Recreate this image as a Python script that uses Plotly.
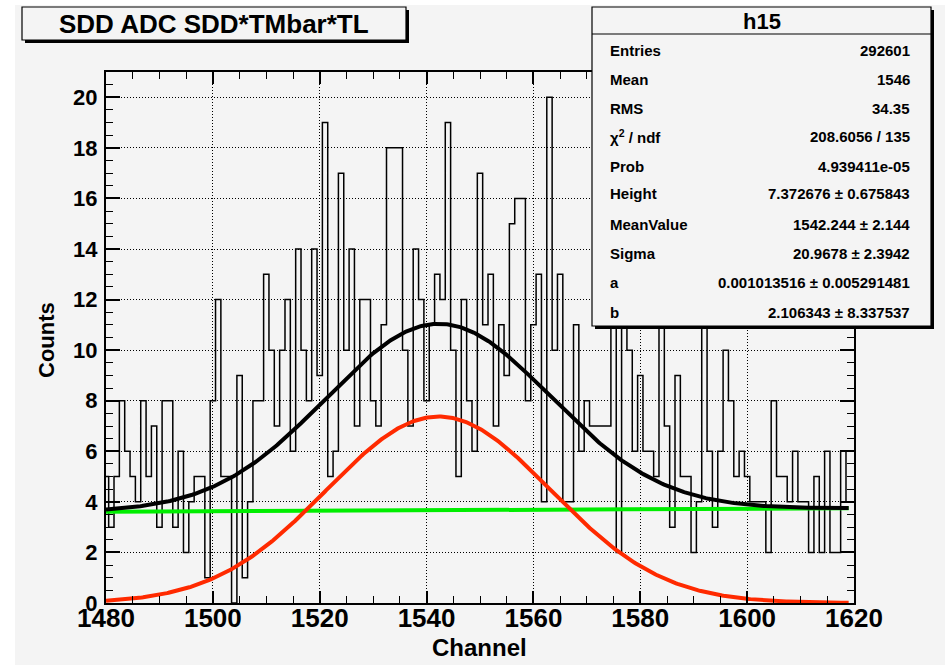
import numpy as np
import plotly.graph_objects as go

# ---------------- data ----------------
channels = list(range(1480, 1620))  # bin centres
counts = [
    5, 3, 5, 8, 6, 5, 4, 8, 5, 7,
    3, 8, 8, 3, 6, 2, 4, 5, 5, 1,
    8, 12, 5, 5, 0, 9, 1, 4, 8, 8,
    13, 10, 7, 10, 12, 6, 14, 10, 8, 14,
    9, 19, 5, 6, 17, 10, 14, 7, 12, 12,
    8, 7, 11, 18, 18, 18, 10, 7, 14, 12,
    8, 11, 13, 12, 19, 10, 5, 12, 8, 6,
    17, 11, 13, 7, 11, 9, 15, 16, 16, 8,
    11, 13, 4, 20, 10, 13, 4, 4, 11, 6,
    8, 7, 7, 7, 7, 13, 2, 12, 10, 6,
    9, 6, 6, 5, 14, 7, 3, 9, 5, 5,
    2, 4, 12, 6, 3, 6, 10, 8, 5, 6,
    5, 4, 4, 4, 2, 8, 5, 5, 4, 6,
    4, 4, 2, 5, 2, 6, 2, 2, 6, 4,
]
assert len(counts) == len(channels)

# fit parameters (from the stats box)
height = 7.372676
mean_value = 1542.244
sigma = 20.9678
a_par = 0.001013516
b_par = 2.106343
fit_range = (1480, 1619)

stat_labels = ["Entries", "Mean", "RMS", "\u03c7<sup>2</sup> / ndf", "Prob",
               "Height", "MeanValue", "Sigma", "a", "b"]
stat_values = ["292601", "1546", "34.35", "208.6056 / 135", "4.939411e-05",
               "7.372676 \u00b1 0.675843", "1542.244 \u00b1 2.144",
               "20.9678 \u00b1 2.3942", "0.001013516 \u00b1 0.005291481",
               "2.106343 \u00b1 8.337537"]

x_ticks = [1480, 1500, 1520, 1540, 1560, 1580, 1600, 1620]
y_ticks = [0, 2, 4, 6, 8, 10, 12, 14, 16, 18, 20]

# ---------------- geometry ----------------
W, H = 947, 665
L, R, T, B = 106, 93, 72, 62
PW, PH = W - L - R, H - T - B
BG = "#f4f4f4"
FONT = "Liberation Sans, Arial, Helvetica, sans-serif"


def xp(px):
    return (px - L) / PW


def yp(py):
    return (H - B - py) / PH


fig = go.Figure()

# histogram as step line
edges = [c - 0.5 for c in channels] + [channels[-1] + 0.5]
step_y = counts + [counts[-1]]
fig.add_trace(go.Scatter(x=edges, y=step_y, mode="lines", line_shape="hv",
                         line=dict(color="black", width=1.5), hoverinfo="skip"))

xs = np.linspace(fit_range[0], fit_range[1], 500)
gauss = height * np.exp(-0.5 * ((xs - mean_value) / sigma) ** 2)
lin = a_par * xs + b_par
fig.add_trace(go.Scatter(x=xs, y=lin, mode="lines",
                         line=dict(color="#00ee00", width=4), hoverinfo="skip"))
fig.add_trace(go.Scatter(x=xs, y=gauss, mode="lines",
                         line=dict(color="#ff2a00", width=4), hoverinfo="skip"))
fig.add_trace(go.Scatter(x=xs, y=gauss + lin, mode="lines",
                         line=dict(color="black", width=4), hoverinfo="skip"))

shapes = []
# white margins of canvas
for (x0, y0, x1, y1) in [(0, 0, 15, H), (0, 0, W, 5), (945, 0, W, H)]:
    shapes.append(dict(type="rect", xref="paper", yref="paper",
                       x0=xp(x0), x1=xp(x1), y0=yp(y1), y1=yp(y0),
                       fillcolor="white", line=dict(width=0), layer="below"))

# title box with shadow
shapes.append(dict(type="rect", xref="paper", yref="paper",
                   x0=xp(25), x1=xp(409), y0=yp(43), y1=yp(10),
                   fillcolor="black", line=dict(width=0), layer="above"))
shapes.append(dict(type="rect", xref="paper", yref="paper",
                   x0=xp(22), x1=xp(406), y0=yp(40), y1=yp(7),
                   fillcolor=BG, line=dict(color="black", width=1.2), layer="above"))

# stats box with shadow
shapes.append(dict(type="rect", xref="paper", yref="paper",
                   x0=xp(595), x1=xp(934), y0=yp(329), y1=yp(10),
                   fillcolor="black", line=dict(width=0), layer="above"))
shapes.append(dict(type="rect", xref="paper", yref="paper",
                   x0=xp(592), x1=xp(931), y0=yp(326), y1=yp(7),
                   fillcolor=BG, line=dict(color="black", width=1.2), layer="above"))
shapes.append(dict(type="line", xref="paper", yref="paper",
                   x0=xp(592), x1=xp(931), y0=yp(34), y1=yp(34),
                   line=dict(color="black", width=1.2), layer="above"))

annotations = []
annotations.append(dict(text="<b>SDD ADC SDD*TMbar*TL</b>", xref="paper", yref="paper",
                        x=xp(214), y=yp(24), xanchor="center", yanchor="middle",
                        showarrow=False, font=dict(family=FONT, size=26, color="black")))
annotations.append(dict(text="<b>h15</b>", xref="paper", yref="paper",
                        x=xp(762), y=yp(21), xanchor="center", yanchor="middle",
                        showarrow=False, font=dict(family=FONT, size=22, color="black")))
row_y = [50, 79, 108, 137, 166, 194, 224, 253, 282, 312]
for lab, val, ry in zip(stat_labels, stat_values, row_y):
    annotations.append(dict(text="<b>" + lab + "</b>", xref="paper", yref="paper",
                            x=xp(608), y=yp(ry), xanchor="left", yanchor="middle",
                            showarrow=False, font=dict(family=FONT, size=15, color="black")))
    annotations.append(dict(text="<b>" + val + "</b>", xref="paper", yref="paper",
                            x=xp(912), y=yp(ry), xanchor="right", yanchor="middle",
                            showarrow=False, font=dict(family=FONT, size=15, color="black")))
annotations.append(dict(text="<b>Channel</b>", xref="paper", yref="paper",
                        x=xp(479), y=yp(647), xanchor="center", yanchor="middle",
                        showarrow=False, font=dict(family=FONT, size=24, color="black")))
annotations.append(dict(text="<b>Counts</b>", xref="paper", yref="paper",
                        x=xp(47), y=yp(340), xanchor="center", yanchor="middle",
                        textangle=-90, showarrow=False,
                        font=dict(family=FONT, size=22, color="black")))

axis_common = dict(
    showline=True, linecolor="black", linewidth=2, mirror="allticks",
    ticks="inside", tickcolor="black", tickwidth=1.5,
    showgrid=True, gridcolor="black", gridwidth=1, griddash="1px,2px",
    zeroline=False,
)

fig.update_layout(
    width=W, height=H,
    margin=dict(l=L, r=R, t=T, b=B, pad=0),
    paper_bgcolor=BG, plot_bgcolor=BG,
    showlegend=False,
    shapes=shapes, annotations=annotations,
    xaxis=dict(range=[1480, 1620], tickvals=x_ticks, ticktext=[str(v) for v in x_ticks],
               ticklen=12,
               minor=dict(ticks="inside", dtick=5, tick0=1480, ticklen=7,
                          tickcolor="black", tickwidth=1.2, showgrid=False),
               tickfont=dict(family=FONT, size=26, color="black", weight="bold"),
               ticklabelstandoff=-9,
               **axis_common),
    yaxis=dict(range=[0, 21], tickvals=y_ticks, ticktext=[str(v) for v in y_ticks],
               ticklen=14,
               minor=dict(ticks="inside", dtick=0.5, tick0=0, ticklen=7,
                          tickcolor="black", tickwidth=1.2, showgrid=False),
               tickfont=dict(family=FONT, size=22, color="black", weight="bold"),
               ticklabelstandoff=2,
               **axis_common),
)

fig.write_html("out.html")
